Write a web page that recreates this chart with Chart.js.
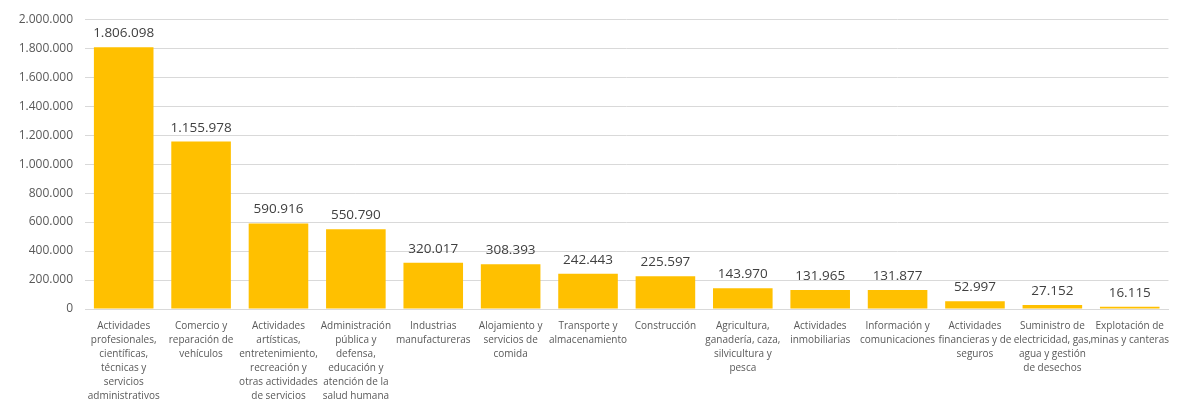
<!DOCTYPE html>
<html>
<head>
<meta charset="utf-8">
<script src="https://cdn.jsdelivr.net/npm/chart.js@4"></script>
<style>
  html, body { margin: 0; padding: 0; background: #fff; }
  #wrap { width: 1179px; height: 400px; }
</style>
</head>
<body>
<div id="wrap"><canvas id="sectorChart"></canvas></div>
<script>
const sectores = [
  ["Actividades", "profesionales,", "científicas,", "técnicas y", "servicios", "administrativos"],
  ["Comercio y", "reparación de", "vehículos"],
  ["Actividades", "artísticas,", "entretenimiento,", "recreación y", "otras actividades", "de servicios"],
  ["Administración", "pública y", "defensa,", "educación y", "atención de la", "salud humana"],
  ["Industrias", "manufactureras"],
  ["Alojamiento y", "servicios de", "comida"],
  ["Transporte y", "almacenamiento"],
  ["Construcción"],
  ["Agricultura,", "ganadería, caza,", "silvicultura y", "pesca"],
  ["Actividades", "inmobiliarias"],
  ["Información y", "comunicaciones"],
  ["Actividades", "financieras y de", "seguros"],
  ["Suministro de", "electricidad, gas,", "agua y gestión", "de desechos"],
  ["Explotación de", "minas y canteras"]
];

const valores = [1806098, 1155978, 590916, 550790, 320017, 308393, 242443, 225597, 143970, 131965, 131877, 52997, 27152, 16115];

const ejeMax = 2000000;
const ejePaso = 200000;

function formatoPuntos(n) {
  return String(Math.round(n)).replace(/\B(?=(\d{3})+(?!\d))/g, ".");
}

const etiquetasBarras = {
  id: "etiquetasBarras",
  afterDatasetsDraw(chart) {
    const ctx = chart.ctx;
    const meta = chart.getDatasetMeta(0);
    ctx.save();
    ctx.font = "13.5px 'Open Sans', sans-serif";
    ctx.fillStyle = "#404040";
    ctx.textAlign = "center";
    ctx.textBaseline = "bottom";
    meta.data.forEach((bar, i) => {
      ctx.fillText(formatoPuntos(valores[i]), bar.x, bar.y - 7);
    });
    ctx.restore();
  }
};

window.onload = function () {
  new Chart(document.getElementById("sectorChart"), {
    type: "bar",
    data: {
      labels: sectores,
      datasets: [{
        data: valores,
        backgroundColor: "#FFC000",
        categoryPercentage: 1.0,
        barPercentage: 0.77
      }]
    },
    options: {
      responsive: true,
      maintainAspectRatio: false,
      animation: false,
      layout: { padding: { top: 14, right: 0, left: 0, bottom: 0 } },
      plugins: {
        legend: { display: false },
        tooltip: { enabled: false }
      },
      scales: {
        x: {
          afterFit(scale) { scale.height = 91; },
          grid: { display: false, drawTicks: false },
          border: { color: "#d9d9d9", width: 1 },
          ticks: {
            autoSkip: false,
            maxRotation: 0,
            minRotation: 0,
            padding: 10,
            color: "#595959",
            font: { family: "'Open Sans', sans-serif", size: 10, lineHeight: 1.4 }
          }
        },
        y: {
          min: 0,
          max: ejeMax,
          afterFit(scale) { scale.width = 85; },
          grid: { color: "#d9d9d9", drawTicks: false },
          border: { display: false },
          ticks: {
            stepSize: ejePaso,
            padding: 12,
            color: "#595959",
            font: { family: "'Open Sans', sans-serif", size: 12 },
            callback: (v) => formatoPuntos(v)
          }
        }
      }
    },
    plugins: [etiquetasBarras]
  });
};
</script>
</body>
</html>
